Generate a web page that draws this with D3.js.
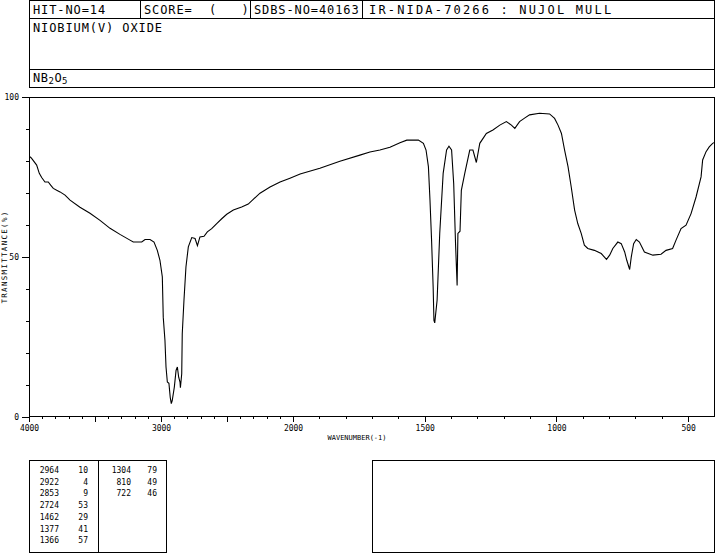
<!DOCTYPE html>
<html><head><meta charset="utf-8">
<script src="https://cdn.jsdelivr.net/npm/d3@7"></script>
<style>
html,body{margin:0;padding:0;background:#fff;}
svg{display:block;}
text{font-family:"DejaVu Sans Mono",monospace;fill:#000;}
</style></head>
<body><svg id="c" width="715" height="553"></svg>
<script>
// ---- data ----
const headerCells = ["HIT-NO=14", "SCORE=  (   )", "SDBS-NO=40163", "IR-NIDA-70266 : NUJOL MULL"];
const compoundName = "NIOBIUM(V) OXIDE";
const wavenumbers = [3992,3980,3942,3922,3904,3879,3854,3836,3816,3790,3765,3727,3689,3614,3538,3462,3386,3311,3235,3210,3146,3121,3083,3053,3028,3008,2990,2983,2970,2962,2952,2940,2930,2922,2915,2899,2886,2876,2866,2856,2853,2843,2839,2826,2811,2793,2767,2742,2724,2705,2674,2649,2616,2578,2540,2502,2452,2389,2339,2250,2174,2098,2023,1973,1898,1822,1746,1708,1670,1632,1594,1568,1524,1505,1495,1486,1480,1474,1468,1465,1462,1453,1443,1430,1417,1408,1398,1390,1383,1377,1374,1366,1361,1348,1329,1317,1304,1291,1266,1241,1215,1190,1171,1158,1140,1121,1102,1064,1026,1007,994,981,969,956,944,931,919,906,894,881,856,830,810,798,786,767,754,741,733,722,716,707,697,685,666,634,603,584,559,546,527,508,489,470,451,445,432,420,407,400];
const transmittance = [81.3,80.8,78.7,76.1,74.8,73.4,73.4,72.4,71.4,70.8,70.3,69.3,67.7,65.5,63.6,61.4,58.9,57,55.2,54.6,54.6,55.4,55.4,54.6,52,48.9,43.7,31.1,23.8,15.5,10.8,10.4,6,4,5,9.2,14.4,15.5,12.3,10.8,9,13.4,25.9,36.4,46.8,53.1,56,55.7,53.5,56.2,56.4,57.8,58.8,60.4,61.9,63.3,64.6,65.6,66.5,69.9,71.8,73.4,74.6,75.9,77.7,79.9,81.8,82.8,83.4,84.3,85.7,86.5,86.5,85.5,83.4,78.2,67.7,55.2,40.5,30.1,29.3,36.4,57.3,76.1,83.4,84.6,83.4,72.9,54.1,41,57.3,58,70.8,76.1,83.4,83.4,79.5,85.5,88.6,89.7,91.2,92.3,91.2,90.2,92.3,93.4,94.4,94.9,94.7,93.3,91.2,88.6,83.4,78.2,71.9,64.6,60.4,57.3,53.6,52.6,52,51,49.2,50.5,52.6,54.6,54.1,51.5,48.9,46,49.9,54.1,55.4,54.6,51.5,50.5,50.8,52,52.6,55.2,58.8,59.9,63.5,68.7,75,80.3,82.9,84.4,85.5,85.8];
const xMinorTicks = d3.range(4000, 399, -100);
const xMajorTicks = [4000,3500,3000,2500,2000,1500,1000,500];
const xTickLabels = [4000,3000,2000,1500,1000,500];
const yMinorTicks = d3.range(0, 101, 10);
const yTickLabels = [0,50,100];
const peakWn1 = [2964,2922,2853,2724,1462,1377,1366];
const peakT1 = [10,4,9,53,29,41,57];
const peakWn2 = [1304,810,722];
const peakT2 = [79,49,46];

// ---- layout ----
const svg = d3.select("#c");
const L = 29, R = 714.5, T = 97, B = 416.5;
const x = d3.scaleLinear().domain([4000,2000,400]).range([L,293,R]);
const y = d3.scaleLinear().domain([0,100]).range([B,T]);

const line = (x1,y1,x2,y2)=>svg.append("line").attr("x1",x1).attr("y1",y1).attr("x2",x2).attr("y2",y2)
  .attr("stroke","#000").attr("stroke-width",1).attr("shape-rendering","crispEdges");

// header box
const hx0 = 29.5, hx1 = 714.5;
svg.append("rect").attr("x",hx0).attr("y",0.5).attr("width",hx1-hx0).attr("height",86.5)
  .attr("fill","none").attr("stroke","#000").attr("shape-rendering","crispEdges");
line(hx0,18.5,hx1,18.5);
line(hx0,69.5,hx1,69.5);
const divs = [140.5,250.5,362.5];
divs.forEach(d=>line(d,0.5,d,18.5));
const cellX = [33,144,254,369];
headerCells.forEach((t,i)=>{
  const tx = svg.append("text").attr("x",cellX[i]).attr("y",14)
    .attr("font-size",12).attr("letter-spacing",0.9).style("white-space","pre").text(t);
  if (i===3) tx.attr("textLength",243).attr("lengthAdjust","spacing");
});
svg.append("text").attr("x",33).attr("y",32).attr("font-size",12).attr("letter-spacing",0.9)
  .style("white-space","pre").text(compoundName);
const f = svg.append("text").attr("x",33).attr("y",82).attr("font-size",12).attr("letter-spacing",0.5);
f.append("tspan").text("NB");
f.append("tspan").attr("font-size",9).attr("dy",2).text("2");
f.append("tspan").attr("dy",-2).text("O");
f.append("tspan").attr("font-size",9).attr("dy",2).text("5");

// plot frame
line(L,T,R,T); line(R,T,R,B); line(L,T,L,B); line(L,B,R,B);

// x axis
const gx1 = svg.append("g").attr("transform",`translate(0,${B})`)
  .call(d3.axisBottom(x).tickValues(xMinorTicks).tickSize(2).tickFormat(""));
const gx2 = svg.append("g").attr("transform",`translate(0,${B})`)
  .call(d3.axisBottom(x).tickValues(xMajorTicks).tickSize(5).tickPadding(4)
    .tickFormat(d=>xTickLabels.includes(d)?String(d):""));
[gx1,gx2].forEach(g=>{g.select(".domain").remove();
  g.selectAll("line").attr("shape-rendering","crispEdges");
  g.selectAll("text").attr("font-family","DejaVu Sans Mono").attr("font-size",8).attr("fill","#000");});

// y axis
const gy1 = svg.append("g").attr("transform",`translate(${L},0)`)
  .call(d3.axisLeft(y).tickValues(yMinorTicks).tickSize(3).tickFormat(""));
const gy2 = svg.append("g").attr("transform",`translate(${L},0)`)
  .call(d3.axisLeft(y).tickValues(yTickLabels).tickSize(7).tickPadding(3).tickFormat(d=>String(d)));
[gy1,gy2].forEach(g=>{g.select(".domain").remove();
  g.selectAll("line").attr("shape-rendering","crispEdges");
  g.selectAll("text").attr("font-family","DejaVu Sans Mono").attr("font-size",8).attr("fill","#000");});

// axis titles
svg.append("text").attr("x",357).attr("y",440).attr("text-anchor","middle").attr("font-size",7).text("WAVENUMBER(-1)");
svg.append("text").attr("transform","translate(7,257) rotate(-90)").attr("text-anchor","middle")
  .attr("font-size",7.5).attr("letter-spacing",1.3).text("TRANSMITTANCE(%)");

// spectrum
svg.append("clipPath").attr("id","clip").append("rect").attr("x",L).attr("y",T).attr("width",R-L).attr("height",B-T);
const pts = wavenumbers.map((w,i)=>[w,transmittance[i]]);
svg.append("path").datum(pts).attr("clip-path","url(#clip)")
  .attr("fill","none").attr("stroke","#000").attr("stroke-width",1.1)
  .attr("d",d3.line().x(d=>x(d[0])).y(d=>y(d[1])));

// peak table
svg.append("rect").attr("x",29.5).attr("y",460.5).attr("width",137).attr("height",92)
  .attr("fill","none").attr("stroke","#000").attr("shape-rendering","crispEdges");
line(98.5,460.5,98.5,552.5);
svg.append("rect").attr("x",372.5).attr("y",460.5).attr("width",342).attr("height",92)
  .attr("fill","none").attr("stroke","#000").attr("shape-rendering","crispEdges");
const rowY = i => 473 + i*11.7;
peakWn1.forEach((w,i)=>{
  svg.append("text").attr("x",59).attr("y",rowY(i)).attr("text-anchor","end").attr("font-size",8).text(w);
  svg.append("text").attr("x",88).attr("y",rowY(i)).attr("text-anchor","end").attr("font-size",8).text(peakT1[i]);
});
peakWn2.forEach((w,i)=>{
  svg.append("text").attr("x",131).attr("y",rowY(i)).attr("text-anchor","end").attr("font-size",8).text(w);
  svg.append("text").attr("x",157).attr("y",rowY(i)).attr("text-anchor","end").attr("font-size",8).text(peakT2[i]);
});
</script></body></html>
